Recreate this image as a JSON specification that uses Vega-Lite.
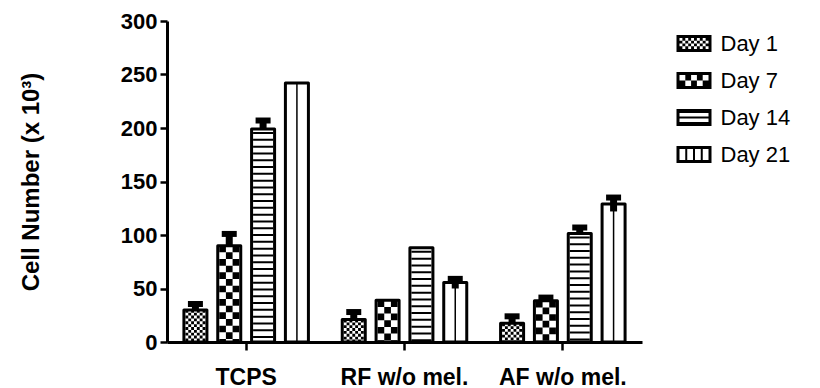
{
  "$schema": "https://vega.github.io/schema/vega-lite/v6.json",
  "autosize": {"type": "none"},
  "padding": {"left": 167, "top": 21, "right": 178, "bottom": 46},
  "width": 475,
  "height": 321,
  "background": "white",
  "config": {
    "view": {"stroke": null},
    "font": "Liberation Sans"
  },
  "data": {
    "values": [
      {"group": "TCPS", "day": "Day 1", "mean": 30, "lo": 30, "hi": 35.5},
      {"group": "TCPS", "day": "Day 7", "mean": 90, "lo": 90, "hi": 101},
      {"group": "TCPS", "day": "Day 14", "mean": 199, "lo": 199, "hi": 207},
      {"group": "TCPS", "day": "Day 21", "mean": 242, "lo": null, "hi": null},
      {"group": "RF w/o mel.", "day": "Day 1", "mean": 21, "lo": 21, "hi": 28},
      {"group": "RF w/o mel.", "day": "Day 7", "mean": 39, "lo": null, "hi": null},
      {"group": "RF w/o mel.", "day": "Day 14", "mean": 88, "lo": null, "hi": null},
      {"group": "RF w/o mel.", "day": "Day 21", "mean": 55.5, "lo": 50, "hi": 59},
      {"group": "AF w/o mel.", "day": "Day 1", "mean": 17.5, "lo": 17.5, "hi": 24},
      {"group": "AF w/o mel.", "day": "Day 7", "mean": 38.5, "lo": 38.5, "hi": 41.5},
      {"group": "AF w/o mel.", "day": "Day 14", "mean": 101.5, "lo": 101.5, "hi": 107},
      {"group": "AF w/o mel.", "day": "Day 21", "mean": 129, "lo": 122, "hi": 135}
    ]
  },
  "encoding": {
    "x": {
      "field": "group",
      "type": "nominal",
      "scale": {"domain": ["TCPS", "RF w/o mel.", "AF w/o mel."], "paddingInner": 0, "paddingOuter": 0},
      "axis": {
        "title": null,
        "labelAngle": 0,
        "labelFont": "Liberation Sans",
        "labelFontWeight": "bold",
        "labelFontSize": 23,
        "labelColor": "black",
        "labelPadding": 16,
        "domainColor": "black",
        "domainWidth": 3,
        "tickColor": "black",
        "tickWidth": 2.5,
        "tickSize": 8
      }
    },
    "xOffset": {
      "field": "day",
      "type": "nominal",
      "scale": {"domain": ["Day 1", "Day 7", "Day 14", "Day 21"], "paddingInner": 0.32, "paddingOuter": 0.5}
    },
    "y": {
      "field": "mean",
      "type": "quantitative",
      "scale": {"domain": [0, 300], "nice": false, "zero": true},
      "axis": {
        "title": "Cell Number (x 10³)",
        "titleFont": "Liberation Sans",
        "titleFontWeight": "bold",
        "titleFontSize": 24,
        "titleColor": "black",
        "titlePadding": 77,
        "values": [0, 50, 100, 150, 200, 250, 300],
        "grid": false,
        "labelFont": "Liberation Sans",
        "labelFontWeight": "bold",
        "labelFontSize": 22,
        "labelColor": "black",
        "labelPadding": 3,
        "domainColor": "black",
        "domainWidth": 3,
        "tickColor": "black",
        "tickWidth": 2.5,
        "tickSize": 7
      }
    }
  },
  "layer": [
    {"mark": {"type": "bar", "fill": "white", "strokeWidth": 0}},

    {"transform": [{"filter": "datum.day === 'Day 1'"}],
     "mark": {"type": "rule", "stroke": "black", "strokeWidth": 20, "strokeDash": [2.857, 2.857], "strokeDashOffset": 0},
     "encoding": {"y2": {"datum": 0}}},
    {"transform": [{"filter": "datum.day === 'Day 1'"}],
     "mark": {"type": "rule", "stroke": "white", "strokeWidth": 14.286},
     "encoding": {"y2": {"datum": 0}}},
    {"transform": [{"filter": "datum.day === 'Day 1'"}],
     "mark": {"type": "rule", "stroke": "black", "strokeWidth": 14.286, "strokeDash": [2.857, 2.857], "strokeDashOffset": 2.857},
     "encoding": {"y2": {"datum": 0}}},
    {"transform": [{"filter": "datum.day === 'Day 1'"}],
     "mark": {"type": "rule", "stroke": "white", "strokeWidth": 8.571},
     "encoding": {"y2": {"datum": 0}}},
    {"transform": [{"filter": "datum.day === 'Day 1'"}],
     "mark": {"type": "rule", "stroke": "black", "strokeWidth": 8.571, "strokeDash": [2.857, 2.857], "strokeDashOffset": 0},
     "encoding": {"y2": {"datum": 0}}},
    {"transform": [{"filter": "datum.day === 'Day 1'"}],
     "mark": {"type": "rule", "stroke": "white", "strokeWidth": 2.857},
     "encoding": {"y2": {"datum": 0}}},
    {"transform": [{"filter": "datum.day === 'Day 1'"}],
     "mark": {"type": "rule", "stroke": "black", "strokeWidth": 2.857, "strokeDash": [2.857, 2.857], "strokeDashOffset": 2.857},
     "encoding": {"y2": {"datum": 0}}},

    {"transform": [{"filter": "datum.day === 'Day 7'"}],
     "mark": {"type": "rule", "stroke": "black", "strokeWidth": 20, "strokeDash": [6.667, 6.667], "strokeDashOffset": 0},
     "encoding": {"y2": {"datum": 0}}},
    {"transform": [{"filter": "datum.day === 'Day 7'"}],
     "mark": {"type": "rule", "stroke": "white", "strokeWidth": 6.667},
     "encoding": {"y2": {"datum": 0}}},
    {"transform": [{"filter": "datum.day === 'Day 7'"}],
     "mark": {"type": "rule", "stroke": "black", "strokeWidth": 6.667, "strokeDash": [6.667, 6.667], "strokeDashOffset": 6.667},
     "encoding": {"y2": {"datum": 0}}},

    {"transform": [{"filter": "datum.day === 'Day 14'"}],
     "mark": {"type": "rule", "stroke": "black", "strokeWidth": 20, "strokeDash": [2, 4.8], "strokeDashOffset": 3.8},
     "encoding": {"y2": {"datum": 0}}},

    {"transform": [{"filter": "datum.day === 'Day 21'"}],
     "mark": {"type": "rule", "stroke": "black", "strokeWidth": 1.5},
     "encoding": {"y2": {"datum": 0}}},

    {"mark": {"type": "bar", "filled": false, "stroke": "black", "strokeWidth": 3, "strokeJoin": "round"}},

    {"transform": [{"filter": "isValid(datum.hi)"}],
     "mark": {"type": "rule", "stroke": "black", "strokeWidth": 7},
     "encoding": {"y": {"field": "lo", "type": "quantitative"}, "y2": {"field": "hi"}}},
    {"transform": [{"filter": "isValid(datum.hi)"}],
     "mark": {"type": "tick", "color": "black", "size": 15, "thickness": 6, "opacity": 1},
     "encoding": {"y": {"field": "hi", "type": "quantitative"}}},

    {"transform": [{"filter": "false"}],
     "mark": {"type": "point", "filled": true, "color": "black", "opacity": 1},
     "encoding": {
       "shape": {
         "field": "day",
         "type": "nominal",
         "scale": {
           "domain": ["Day 1", "Day 7", "Day 14", "Day 21"],
           "range": [
             "M-1,-0.486L1,-0.486L1,0.486L-1,0.486Z M-0.829,-0.314L-0.829,-0.157L-0.663,-0.157L-0.663,-0.314Z M-0.497,-0.314L-0.497,-0.157L-0.331,-0.157L-0.331,-0.314Z M-0.166,-0.314L-0.166,-0.157L0,-0.157L0,-0.314Z M0.166,-0.314L0.166,-0.157L0.331,-0.157L0.331,-0.314Z M0.497,-0.314L0.497,-0.157L0.663,-0.157L0.663,-0.314Z M-0.663,-0.157L-0.663,0L-0.497,0L-0.497,-0.157Z M-0.331,-0.157L-0.331,0L-0.166,0L-0.166,-0.157Z M0,-0.157L0,0L0.166,0L0.166,-0.157Z M0.331,-0.157L0.331,0L0.497,0L0.497,-0.157Z M0.663,-0.157L0.663,0L0.829,0L0.829,-0.157Z M-0.829,0L-0.829,0.157L-0.663,0.157L-0.663,0Z M-0.497,0L-0.497,0.157L-0.331,0.157L-0.331,0Z M-0.166,0L-0.166,0.157L0,0.157L0,0Z M0.166,0L0.166,0.157L0.331,0.157L0.331,0Z M0.497,0L0.497,0.157L0.663,0.157L0.663,0Z M-0.663,0.157L-0.663,0.314L-0.497,0.314L-0.497,0.157Z M-0.331,0.157L-0.331,0.314L-0.166,0.314L-0.166,0.157Z M0,0.157L0,0.314L0.166,0.314L0.166,0.157Z M0.331,0.157L0.331,0.314L0.497,0.314L0.497,0.157Z M0.663,0.157L0.663,0.314L0.829,0.314L0.829,0.157Z",
             "M-1,-0.486L1,-0.486L1,0.486L-1,0.486Z M-0.829,-0.314L-0.829,0L-0.497,0L-0.497,-0.314Z M-0.166,-0.314L-0.166,0L0.166,0L0.166,-0.314Z M0.497,-0.314L0.497,0L0.829,0L0.829,-0.314Z M-0.497,0L-0.497,0.314L-0.166,0.314L-0.166,0Z M0.166,0L0.166,0.314L0.497,0.314L0.497,0Z",
             "M-1,-0.486L1,-0.486L1,0.486L-1,0.486Z M-0.829,-0.257L-0.829,-0.057L0.829,-0.057L0.829,-0.257Z M-0.829,0.057L-0.829,0.257L0.829,0.257L0.829,0.057Z",
             "M-1,-0.486L1,-0.486L1,0.486L-1,0.486Z M-0.829,-0.314L-0.829,0.314L-0.5,0.314L-0.5,-0.314Z M-0.386,-0.314L-0.386,0.314L-0.057,0.314L-0.057,-0.314Z M0.057,-0.314L0.057,0.314L0.386,0.314L0.386,-0.314Z M0.5,-0.314L0.5,0.314L0.829,0.314L0.829,-0.314Z"
           ]
         },
         "legend": {
           "title": null,
           "orient": "none",
           "legendX": 509.5,
           "legendY": 5,
           "padding": 0,
           "symbolSize": 1225,
           "symbolFillColor": "black",
           "symbolStrokeWidth": 0,
           "symbolOpacity": 1,
           "rowPadding": 8,
           "labelFont": "Liberation Sans",
           "labelFontSize": 22,
           "labelColor": "black",
           "labelOffset": 9,
           "labelLimit": 200
         }
       }
     }}
  ]
}
